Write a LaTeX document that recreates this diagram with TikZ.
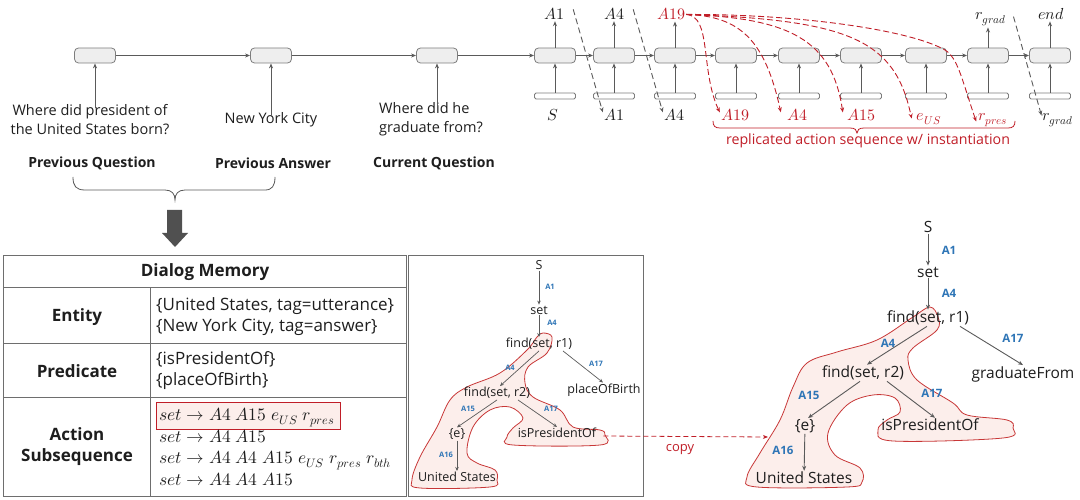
\documentclass[tikz,border=0pt]{standalone}
\usepackage{fontspec}
\usepackage{unicode-math}
\setmainfont{Open Sans}
\setmathfont{Latin Modern Math}
\usetikzlibrary{arrows.meta}
\definecolor{txt}{RGB}{30,30,30}
\definecolor{garr}{RGB}{90,90,90}
\definecolor{cellfill}{RGB}{238,238,238}
\definecolor{celldraw}{RGB}{125,125,125}
\definecolor{myred}{RGB}{192,30,40}
\definecolor{myblue}{RGB}{46,117,182}
\definecolor{blobfill}{RGB}{252,238,235}
\definecolor{blobdraw}{RGB}{200,55,55}
\definecolor{tblline}{RGB}{110,110,110}
\definecolor{bigarrow}{RGB}{80,80,80}
\begin{document}
\begin{tikzpicture}[x=1pt,y=-1pt,
  cell/.style={draw=celldraw, fill=cellfill, rounded corners=4pt, minimum width=41pt, minimum height=15pt, inner sep=0pt, line width=0.8pt},
  inbox/.style={draw=celldraw, fill=white, rounded corners=1.5pt, minimum width=41pt, minimum height=6pt, inner sep=0pt, line width=0.8pt},
  garrow/.style={-{Stealth[length=5pt,width=4pt]}, draw=garr, line width=0.9pt},
  gdash/.style={garrow, dash pattern=on 6pt off 3.5pt},
  rdash/.style={-{Stealth[length=5pt,width=4pt]}, draw=myred, line width=0.9pt, dash pattern=on 6pt off 3pt},
  mlab/.style={font=\fontsize{16}{18}\selectfont, text=txt, inner sep=1pt, anchor=base},
  rlab/.style={mlab, text=myred},
  qtext/.style={font=\fontsize{14.5}{19}\selectfont, text=txt, align=center, inner sep=1pt},
  btitle/.style={font=\bfseries\fontsize{14}{16}\selectfont, text=txt},
  thead/.style={font=\bfseries\fontsize{17}{21}\selectfont, text=txt, align=center},
  tcell/.style={font=\fontsize{17}{21}\selectfont, text=txt, align=left, anchor=west, inner sep=0pt},
  tmath/.style={font=\fontsize{17.5}{19}\selectfont, text=txt, anchor=base west, inner sep=0pt},
  tsmall/.style={font=\fontsize{12.5}{14}\selectfont, text=txt, inner sep=1pt},
  tbig/.style={font=\fontsize{15.5}{17}\selectfont, text=txt, inner sep=1pt},
  lsmall/.style={font=\bfseries\fontsize{7.5}{8}\selectfont, text=myblue, inner sep=0pt},
  lbig/.style={font=\bfseries\fontsize{11.5}{12}\selectfont, text=myblue, inner sep=0pt},
  tarrow/.style={-{Stealth[length=4pt,width=3.5pt]}, draw=garr, line width=0.7pt},
  blob/.style={draw=blobdraw, fill=blobfill, line width=0.8pt}
]
\useasboundingbox (0,0) rectangle (1080,500);

% ---------------- top: encoder chain ----------------
\node[cell] (L1) at (95,55.5) {};
\node[cell] (L2) at (271,55.5) {};
\node[cell] (L3) at (437,55.5) {};
\foreach \i/\x in {1/555,2/614,3/675,4/736,5/799,6/861,7/926,8/988,9/1050}{
  \node[cell] (c\i) at (\x,55.5) {};
  \node[inbox] (i\i) at (\x,96) {};
  \draw[garrow] (i\i) -- (c\i);
}
\draw[garrow] (L1) -- (L2);
\draw[garrow] (L2) -- (L3);
\draw[garrow] (L3) -- (c1);
\foreach \a/\b in {1/2,2/3,3/4,4/5,5/6,6/7,7/8,8/9}{
  \draw[garrow] (c\a) -- (c\b);
}

% inputs on the left
\node[qtext] (q1) at (90,119.5) {Where did president of\\the United States born?};
\node[qtext] (q2) at (271,120) {New York City};
\node[qtext, align=left] (q3) at (431,119.5) {Where did he\\graduate from?};
\draw[garrow, shorten <=-5pt] (L1.south |- q1.north) -- (L1.south);
\draw[garrow, shorten <=-5pt] (L2.south |- q2.north) -- (L2.south);
\draw[garrow, shorten <=-5pt] (L3.south |- q3.north) -- (L3.south);
\node[btitle] (p1) at (92,163) {Previous Question};
\node[btitle] (p2) at (273,163) {Previous Answer};
\node[btitle] (p3) at (434,163) {Current Question};

% brace and big arrow
\draw[garr, line width=0.8pt] (73,177) .. controls (73,186) and (76,190) .. (85,190) -- (165,190)
  .. controls (172,190) and (175,194) .. (175,200) .. controls (175,194) and (178,190) .. (185,190)
  -- (265,190) .. controls (272,190) and (275,186) .. (275,177);
\fill[bigarrow] (167,210) -- (182,210) -- (182,233) -- (188,233) -- (175,247) -- (162,233) -- (167,233) -- cycle;

% top labels
\node[mlab] (t1) at (554,20) {$A1$};
\node[mlab] (t2) at (614,20) {$A4$};
\node[rlab] (t3) at (671,20) {$A19$};
\node[mlab] (t8) at (991,20) {$r_{grad}$};
\node[mlab] (t9) at (1051,20) {$end$};
\foreach \i/\t in {1/t1,2/t2,3/t3,8/t8,9/t9}{
  \draw[garrow] (c\i.north) -- (c\i.north |- \t.south);
}

% bottom labels
\node[mlab] (b1) at (553,121) {$S$};
\node[mlab] (b2) at (614,121) {$A1$};
\node[mlab] (b3) at (674,121) {$A4$};
\node[rlab] (b4) at (735,121) {$A19$};
\node[rlab] (b5) at (797,121) {$A4$};
\node[rlab] (b6) at (861,121) {$A15$};
\node[rlab] (b7) at (929,121) {$e_{US}$};
\node[rlab] (b8) at (993,121) {$r_{pres}$};
\node[mlab] (b9) at (1058,121) {$r_{grad}$};

% gray dashed copies
\draw[gdash] ([xshift=8pt,yshift=5pt]t1.east) -- ([yshift=3pt]b2.west);
\draw[gdash] ([xshift=8pt,yshift=5pt]t2.east) -- ([yshift=3pt]b3.west);
\draw[gdash] ([xshift=6pt,yshift=3pt]t8.east) -- ([yshift=5pt]b9.west);

% red dashed curves
\draw[rdash] (t3.east) .. controls (712,16) and (700,70) .. ([yshift=3pt]b4.west);
\draw[rdash] (t3.east) .. controls (740,16) and (765,40) .. ([xshift=-5pt,yshift=3pt]b5.west);
\draw[rdash] (t3.east) .. controls (790,18) and (832,40) .. ([xshift=-3pt,yshift=3pt]b6.west);
\draw[rdash] (t3.east) .. controls (850,20) and (895,40) .. ([xshift=-4pt,yshift=1pt]b7.west);
\draw[rdash] (t3.east) .. controls (800,14) and (910,30) .. (945,50) .. controls (958,58) and (962,80) .. ([xshift=-1pt,yshift=-1pt]b8.west);

% red brace and caption
\draw[myred, line width=0.8pt] (713,121) .. controls (713,126) and (715,128) .. (720,128) -- (850,128)
  .. controls (855,128) and (857,130) .. (857,133) .. controls (857,130) and (859,128) .. (864,128)
  -- (1008,128) .. controls (1013,128) and (1015,126) .. (1015,121);
\node[font=\fontsize{14.2}{16}\selectfont, text=myred] (cap) at (868,141) {replicated action sequence w/ instantiation};

% ---------------- dialog memory table ----------------
\draw[tblline, line width=1pt] (3,255) rectangle (406,496);
\draw[tblline, line width=1pt] (3,287) -- (406,287);
\draw[tblline, line width=1pt] (3,343) -- (406,343);
\draw[tblline, line width=1pt] (3,397) -- (406,397);
\draw[tblline, line width=1pt] (150,287) -- (150,496);
\node[thead] (dm) at (205,272) {Dialog Memory};
\node[thead] (en) at (77,317) {Entity};
\node[thead] (pr) at (77,371) {Predicate};
\node[thead] (as) at (77,447) {Action\\Subsequence};
\node[tcell] (env) at (156,316.5) {\{United States, tag=utterance\}\\\{New York City, tag=answer\}};
\node[tcell] (prv) at (156,371) {\{isPresidentOf\}\\\{placeOfBirth\}};
\draw[draw=myred, fill=blobfill, line width=0.8pt] (156,402) rectangle (340,429);
\node[tmath] (m1) at (159,420) {$set \rightarrow A4\;A15\;e_{US}\;r_{pres}$};
\node[tmath] (m2) at (159,442) {$set \rightarrow A4\;A15$};
\node[tmath] (m3) at (159,463) {$set \rightarrow A4\;A4\;A15\;e_{US}\;r_{pres}\;r_{bth}$};
\node[tmath] (m4) at (159,485) {$set \rightarrow A4\;A4\;A15$};

% ---------------- small tree panel ----------------
\draw[tblline, line width=1pt] (408,255) rectangle (643,496);
\draw[blob] plot[smooth cycle, tension=0.6] coordinates {
 (543,333) (552,337) (547,353) (528,367) (525,383) (533,397) (560,410) (573,427) (600,430)
 (605,435) (600,445) (513,445) (507,437) (513,428) (523,418) (510,407) (490,410) (473,427)
 (467,453) (477,463) (495,470) (497,480) (490,487) (420,488) (412,480) (420,457) (437,427)
 (450,400) (467,387) (500,373) (527,350) (537,337)};
\node[tsmall] (sS) at (539,265) {S};
\node[tsmall] (sset) at (539,310) {set};
\node[tsmall] (sf1) at (539,344) {find(set, r1)};
\node[tsmall] (sf2) at (497,393) {find(set, r2)};
\node[tsmall] (spob) at (604,390) {placeOfBirth};
\node[tsmall] (se) at (457,434) {\{e\}};
\node[tsmall] (sip) at (557,433) {isPresidentOf};
\node[tsmall] (sus) at (457,477) {United States};
\node[lsmall] (sa1) at (550,287) {A1};
\node[lsmall] (sa2) at (552,323) {A4};
\node[lsmall] (sa3) at (510,368) {A4};
\node[lsmall] (sa4) at (596,364) {A17};
\node[lsmall] (sa5) at (468,409) {A15};
\node[lsmall] (sa6) at (551,409) {A17};
\node[lsmall] (sa7) at (446,455) {A16};
\draw[tarrow] (sS) -- (sset);
\draw[tarrow] (sset) -- (sf1);
\draw[tarrow] (sf1.south) -- ([xshift=3pt]sf2.north);
\draw[tarrow] ([xshift=24pt]sf1.south) -- ([xshift=-1pt]spob.north);
\draw[tarrow] (sf2.south) -- (se.north);
\draw[tarrow] ([xshift=21pt]sf2.south) -- (sip.north);
\draw[tarrow] (se) -- (sus);

% copy arrow
\coordinate (cpend) at (768,437);
\draw[rdash, line width=0.8pt, dash pattern=on 5pt off 3pt] ([xshift=6pt,yshift=-3pt]sip.east) -- (cpend);
\node[font=\fontsize{13}{15}\selectfont, text=myred] (cpl) at (680,450) {copy};

% ---------------- big tree ----------------
\draw[blob] plot[smooth cycle, tension=0.6] coordinates {
 (930,307) (938,317) (937,330) (913,348) (908,360) (917,380) (953,403) (967,415) (1007,420)
 (1013,428) (1003,438) (893,441) (878,430) (887,420) (900,412) (895,398) (873,395) (847,405)
 (828,433) (835,455) (860,468) (862,482) (847,487) (757,487) (747,477) (760,453) (780,420)
 (793,387) (807,363) (837,352) (877,340) (913,317)};
\node[tbig] (bS) at (928,227) {S};
\node[tbig] (bset) at (928,272) {set};
\node[tbig] (bf1) at (928,318) {find(set, r1)};
\node[tbig] (bf2) at (863,373) {find(set, r2)};
\node[tbig] (bgf) at (1023,374) {graduateFrom};
\node[tbig] (be) at (805,426) {\{e\}};
\node[tbig] (bip) at (930,425) {isPresidentOf};
\node[tbig] (bus) at (804,478) {United States};
\node[lbig] (ba1) at (949,250) {A1};
\node[lbig] (ba2) at (949,293) {A4};
\node[lbig] (ba3) at (888,343) {A4};
\node[lbig] (ba4) at (1013,338) {A17};
\node[lbig] (ba5) at (809,395) {A15};
\node[lbig] (ba6) at (932,393) {A17};
\node[lbig] (ba7) at (783,450) {A16};
\draw[garrow] (bS) -- (bset);
\draw[garrow] (bset) -- (bf1);
\draw[garrow] ([xshift=-1pt]bf1.south) -- ([xshift=4pt]bf2.north);
\draw[garrow] ([xshift=32pt]bf1.south) -- (bgf.north);
\draw[garrow] ([xshift=-3pt]bf2.south) -- ([xshift=3pt]be.north);
\draw[garrow] ([xshift=24pt]bf2.south) -- ([xshift=5pt]bip.north);
\draw[garrow] (be) -- (bus);
\end{tikzpicture}
\end{document}
